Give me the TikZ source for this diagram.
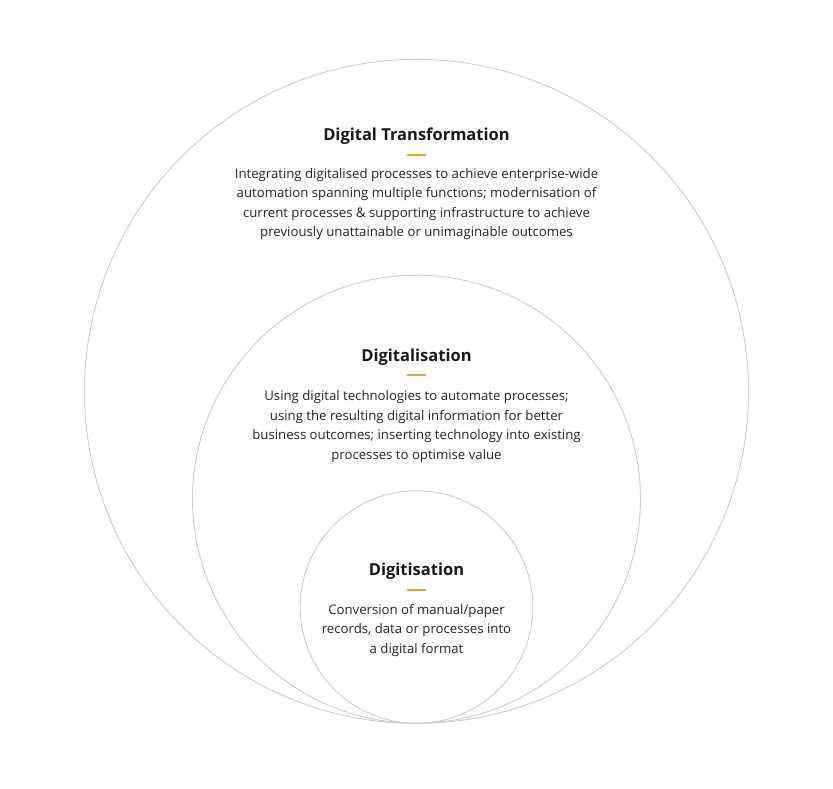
\documentclass[tikz,border=0pt]{standalone}
\usepackage{fontspec}
\setmainfont{Open Sans}
\usepackage{tikz}
\usetikzlibrary{positioning}
\definecolor{ringgray}{HTML}{CCCCCC}
\definecolor{dashorange}{HTML}{EFA12F}
\tikzset{ring/.style={circle, draw=ringgray, line width=0.9pt, inner sep=0pt}}
\tikzset{heading/.style={font=\fontsize{16.5}{20}\selectfont\bfseries, text=black!90, inner sep=0pt}}
\tikzset{blurb/.style={font=\fontsize{13.2}{19.5}\selectfont, text=black!85, align=center, inner sep=0pt}}
\tikzset{dash line/.style={draw=dashorange, line width=2pt}}
\begin{document}
\begin{tikzpicture}[x=1pt, y=1pt]
\useasboundingbox (0,0) rectangle (833,789);
% rings, all touching at the bottom
\node[ring, minimum size=664] (outer) at (416.5,397.6) {};
\node[ring, minimum size=448] (middle) at (416.5,289.8) {};
\node[ring, minimum size=232.6] (inner) at (416.5,182) {};
% outer ring text
\node[heading] (transf) at (416.5,652.5) {Digital Transformation};
\draw[dash line] (407,634) -- (426,634);
\node[blurb] (transftext) at (416.5,585) {Integrating digitalised processes to achieve enterprise-wide\\automation spanning multiple functions; modernisation of\\current processes \& supporting infrastructure to achieve\\previously unattainable or unimaginable outcomes};
% middle ring text
\node[heading] (digital) at (416.5,431.5) {Digitalisation};
\draw[dash line] (407,413.5) -- (426,413.5);
\node[blurb] (digitaltext) at (416.5,362.5) {Using digital technologies to automate processes;\\using the resulting digital information for better\\business outcomes; inserting technology into existing\\processes to optimise value};
% inner ring text
\node[heading] (digitis) at (416.5,217.5) {Digitisation};
\draw[dash line] (407,199) -- (426,199);
\node[blurb] (digitistext) at (416.5,158.5) {Conversion of manual/paper\\records, data or processes into\\a digital format};
\end{tikzpicture}
\end{document}
